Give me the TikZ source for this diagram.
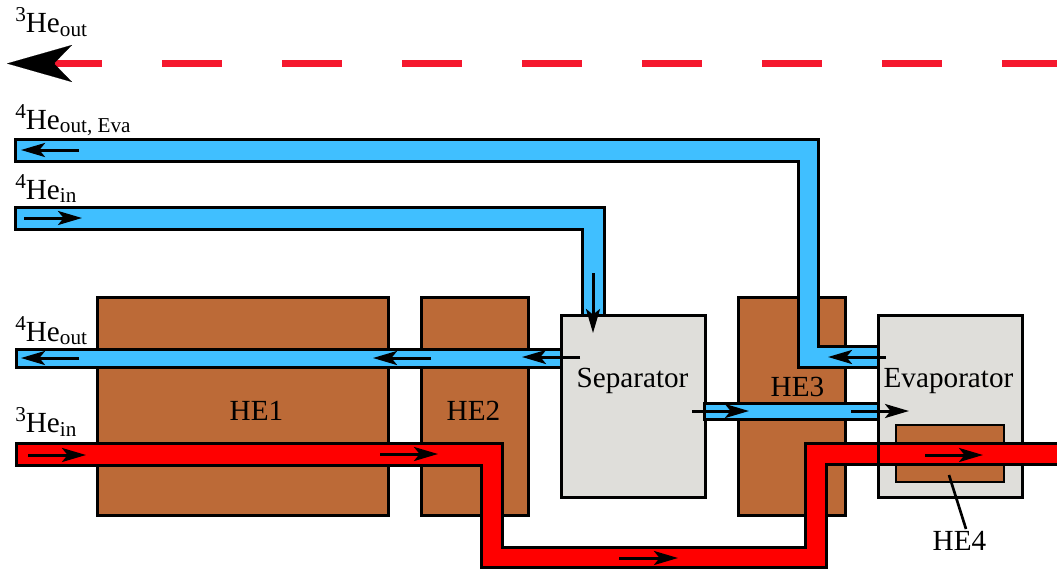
\documentclass[tikz,border=0pt]{standalone}
\usepackage{fontspec}
\setmainfont{Liberation Serif}
\usetikzlibrary{arrows.meta}
\definecolor{hebrown}{HTML}{BC6A37}
\definecolor{pipeblue}{HTML}{40BFFF}
\definecolor{pipered}{HTML}{FF0000}
\definecolor{vesselgrey}{HTML}{DFDEDA}
\definecolor{dashred}{HTML}{F5182E}
\newcommand{\isotope}[2]{\raisebox{8.25pt}{\fontsize{15.9pt}{16pt}\selectfont #1}He\raisebox{-2.6pt}{\fontsize{15.9pt}{16pt}\selectfont #2}}
\tikzset{
  x=.75pt, y=-.75pt,
  box/.style={draw=black, line width=2.25pt, inner sep=0pt, outer sep=0pt},
  hebox/.style={box, fill=hebrown, minimum height=163.5pt},
  vessel/.style={box, fill=vesselgrey, minimum height=136.5pt},
  bluepipe/.style={draw=black, fill=pipeblue, line width=2.25pt, miter limit=10},
  redpipe/.style={draw=black, fill=pipered, line width=2.25pt, miter limit=10},
  flow/.style={line width=2.25pt, -{Stealth[length=18pt,width=10.5pt,inset=4.2pt]}},
  lbl/.style={anchor=base, inner sep=0pt, font=\fontsize{21.9pt}{24pt}\selectfont},
  iso/.style={anchor=base west, inner sep=0pt, font=\fontsize{21.9pt}{24pt}\selectfont}
}
\begin{document}
\begin{tikzpicture}
\useasboundingbox (0,0) rectangle (1057,572);
\clip (0,0) rectangle (1057,572);
% vessels and heat exchangers
\node[hebox, minimum width=218.25pt] (he1) at (242.75,406) {};
\node[hebox, minimum width=80.25pt] (he2) at (474.75,406) {};
\node[hebox, minimum width=80.25pt] (he3) at (791.75,406) {};
\node[vessel, minimum width=108pt] (sep) at (633,406) {};
\node[vessel, minimum width=108pt] (eva) at (950,406) {};
\node[draw=black, line width=1.2pt, fill=hebrown, inner sep=0pt, minimum width=81pt, minimum height=42.75pt] (he4) at (950,453.5) {};
% pipes
\draw[bluepipe] (15.5,139.5) -- (818.5,139.5) -- (818.5,346.5) -- (878,346.5) -- (878,367) -- (798.5,367) -- (798.5,161.5) -- (15.5,161.5) -- cycle;
\draw[bluepipe] (15.5,207.5) -- (604,207.5) -- (604,315) -- (582.5,315) -- (582.5,229) -- (15.5,229) -- cycle;
\draw[bluepipe] (16,349) -- (561,349) -- (561,367) -- (16,367) -- cycle;
\draw[bluepipe] (704,403) -- (878,403) -- (878,419) -- (704,419) -- cycle;
\draw[redpipe] (16.5,443.5) -- (502,443.5) -- (502,547.5) -- (805,547.5) -- (805,443.5) -- (1065,443.5) -- (1065,464.5) -- (826,464.5) -- (826,567) -- (481,567) -- (481,465) -- (16.5,465) -- cycle;
% box edges over pipe ends
\draw[line width=2.25pt] (sep.north west) -- (sep.south west);
\draw[line width=2.25pt] (eva.north west) -- (eva.south west);
% return line
\coordinate (dashA) at (42,63.5);
\coordinate (dashB) at (1062,63.5);
\draw[dashred, line width=5.6pt, dash pattern=on 45pt off 45pt] (dashA) -- (dashB);
\coordinate (bigtail) at (54,63.5);
\coordinate (bigtip) at (7,63.5);
\draw[line width=.1pt, -{Stealth[length=48.75pt,width=27.75pt,inset=13.5pt]}] (bigtail) -- (bigtip);
% flow arrows
\draw[flow] (79,150) -- (21,150);
\draw[flow] (24,218) -- (82,218);
\draw[flow] (79,358) -- (21,358);
\draw[flow] (28,455) -- (86,455);
\draw[flow] (431,358) -- (373,358);
\draw[flow] (580,357) -- (522,357);
\draw[flow] (380,454) -- (438,454);
\draw[flow] (593,273) -- (593,333);
\draw[flow] (619,558) -- (678,558);
\draw[flow] (692,411) -- (749,411);
\draw[flow] (851,411) -- (909,411);
\draw[flow] (886,357) -- (828,357);
\draw[flow] (925,455) -- (983,455);
% leader
\coordinate (he4lead) at (966,529);
\draw[line width=2pt] (949,475) -- (he4lead);
% labels
\node[iso] (l1) at (15,32.6) {\isotope{3}{out}};
\node[iso] (l2) at (15,129) {\isotope{4}{out, Eva}};
\node[iso] (l3) at (15,199) {\isotope{4}{in}};
\node[iso] (l4) at (15,341) {\isotope{4}{out}};
\node[iso] (l5) at (15,432.7) {\isotope{3}{in}};
\node[lbl] (t1) at (256.5,420.7) {HE1};
\node[lbl] (t2) at (473.5,420.7) {HE2};
\node[lbl] (t3) at (797.5,396.7) {HE3};
\node[lbl] (t4) at (632.5,387.7) {Separator};
\node[lbl] (t5) at (948.5,387.7) {Evaporator};
\node[lbl] (t6) at (959.5,550.7) {HE4};
\end{tikzpicture}
\end{document}
